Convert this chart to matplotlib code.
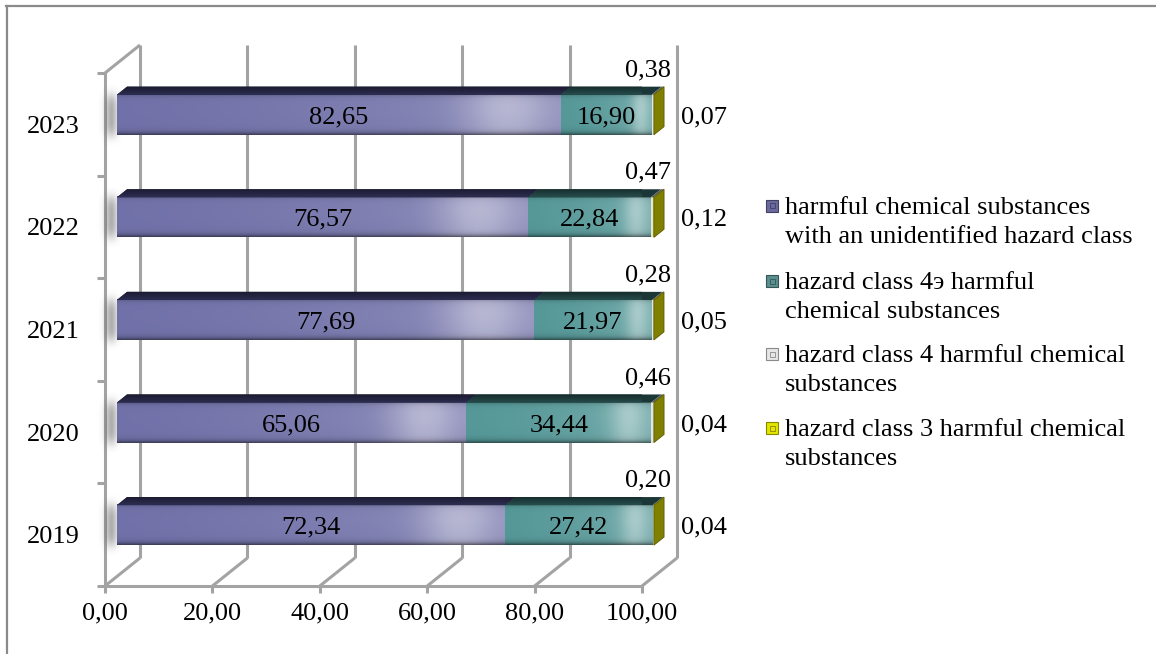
import numpy as np
import matplotlib
matplotlib.use("Agg")
import matplotlib.pyplot as plt
import matplotlib.transforms as mtransforms
from matplotlib.patches import Polygon, Rectangle
from matplotlib.lines import Line2D

# ---- data -------------------------------------------------------------
years = ["2019", "2020", "2021", "2022", "2023"]
unidentified = [72.34, 65.06, 77.69, 76.57, 82.65]
class_4e = [27.42, 34.44, 21.97, 22.84, 16.90]
class_4 = [0.20, 0.46, 0.28, 0.47, 0.38]
class_3 = [0.04, 0.04, 0.05, 0.12, 0.07]
series_names = [
    "harmful chemical substances\nwith an unidentified hazard class",
    "hazard class 4э harmful\nchemical substances",
    "hazard class 4 harmful chemical\nsubstances",
    "hazard class 3 harmful chemical\nsubstances",
]
x_ticks = [0, 20, 40, 60, 80, 100]

# ---- style ------------------------------------------------------------
plt.rcParams["font.family"] = ["Liberation Serif", "DejaVu Serif"]
FS = 19
W, H = 1156, 654
GRID = "#a3a3a3"
front_colors = ["#6c6ca6", "#4f9494", "#e4e4e4", "#d4d400"]
top_colors = ["#20203a", "#1b3636", "#5a5a5a", "#4a4a00"]
cap_color = "#808000"
marker_colors = ["#6a6aa0", "#5a8f8f", "#e6e6e6", "#e4e400"]

DX, DY = 35.0, 28.0      # pixel offset of the back wall relative to the front
D0, D1 = 0.34, 0.63      # depth range occupied by the bars
BAR_H = 0.39

fig = plt.figure(figsize=(W / 100, H / 100), dpi=100)
ax = fig.add_axes([105 / W, (H - 586) / H, 537 / W, 513 / H])
ax.set_xlim(0, 100)
ax.set_ylim(-0.5, 4.5)
ax.patch.set_visible(False)


def depth(d):
    return ax.transData + mtransforms.Affine2D().translate(d * DX, d * DY)


def px(x, y, d):
    p = ax.transData.transform((x, y))
    return (p[0] + d * DX, p[1] + d * DY)


ident = mtransforms.IdentityTransform()
wall_kw = dict(color=GRID, lw=2.2, solid_capstyle="butt", clip_on=False, zorder=1)

# ---- walls and floor ---------------------------------------------------
y0, y1 = ax.get_ylim()
for v in x_ticks:
    ax.plot([v, v], [y0, y1], transform=depth(1), **wall_kw)
    a, b = px(v, y0, 0), px(v, y0, 1)
    ax.add_line(Line2D([a[0], b[0]], [a[1], b[1]], transform=ident, **wall_kw))
a, b = px(0, y1, 0), px(0, y1, 1)
ax.add_line(Line2D([a[0], b[0]], [a[1], b[1]], transform=ident, **wall_kw))

for s in ["top", "right"]:
    ax.spines[s].set_visible(False)
for s in ["left", "bottom"]:
    ax.spines[s].set_color(GRID)
    ax.spines[s].set_linewidth(2.2)
    ax.spines[s].set_zorder(1)

ax.set_xticks(x_ticks, labels=[f"{v:.2f}".replace(".", ",") for v in x_ticks])
ax.set_yticks(range(len(years)), labels=years)
ax.set_yticks(np.arange(-0.5, len(years)), minor=True)
ax.tick_params(axis="x", length=5, width=2.2, color=GRID, pad=7, labelsize=FS)
ax.tick_params(axis="y", which="major", length=0, pad=18, labelsize=FS)
ax.tick_params(axis="y", which="minor", length=6, width=2.2, color=GRID)


# ---- shading helpers -----------------------------------------------------
def face_gradient(color, n=96):
    rgb = np.array(matplotlib.colors.to_rgb(color))
    u = np.linspace(0, 1, n)[None, :, None]
    v = np.linspace(0, 1, 32)[:, None, None]   # row 0 = top edge
    white = 0.04 + 0.2 * u ** 1.5 + 0.3 * np.exp(-((u - 0.88) / 0.1) ** 2)
    white = white * (0.9 + 0.1 * np.exp(-((v - 0.35) / 0.3) ** 2))
    dark = 0.45 * np.exp(-(1 - v) / 0.06) + 0.2 * np.exp(-v / 0.05)
    img = rgb * (1 - white) + white
    img = img * (1 - dark)
    return np.clip(img, 0, 1)


def top_gradient(color, n=16):
    rgb = np.array(matplotlib.colors.to_rgb(color))
    t = np.linspace(0, 1, n)[:, None, None]    # row 0 = back edge
    img = rgb * (0.8 + 0.6 * t)
    return np.clip(np.repeat(img, 4, axis=1), 0, 1)


# left-wall shadows
for i in range(len(years)):
    cx, cy = px(0, i, D0)
    gx = np.linspace(-1, 1, 40)
    gy = np.linspace(-1, 1, 60)
    G = np.exp(-((gx[None, :] - 0.2) / 0.55) ** 2) * np.exp(-((gy[:, None] + 0.05) / 0.6) ** 4)
    rgba = np.zeros((60, 40, 4))
    rgba[..., :3] = 0.3
    rgba[..., 3] = 0.45 * G
    im = ax.imshow(rgba, extent=(cx - 20, cx + 4, cy - 38, cy + 34), transform=ident,
                   aspect="auto", zorder=2, interpolation="bilinear")
    im.set_clip_on(False)

# ---- bars ---------------------------------------------------------------
series = [unidentified, class_4e, class_4, class_3]
lefts = np.zeros(len(years))
for k, vals in enumerate(series):
    vals = np.array(vals)
    bars = ax.barh(range(len(years)), vals, left=lefts, height=BAR_H,
                   color=front_colors[k], edgecolor="none", transform=depth(D0),
                   zorder=3, clip_on=False)
    for i, patch in enumerate(bars):
        x0, x1 = lefts[i], lefts[i] + vals[i]
        yb, yt = i - BAR_H / 2, i + BAR_H / 2
        if k < 2:
            im = ax.imshow(face_gradient(front_colors[k]), extent=(x0, x1, yb, yt),
                           transform=depth(D0), aspect="auto", zorder=3.1,
                           interpolation="bilinear")
            im.set_clip_on(False)
        top = [px(x0, yt, D0), px(x1, yt, D0), px(x1, yt, D1), px(x0, yt, D1)]
        tp = Polygon(top, closed=True, transform=ident, facecolor=top_colors[k],
                     edgecolor="none", zorder=3.2, clip_on=False)
        ax.add_patch(tp)
        if k < 2:
            a, b = px(x0, yt, D0), px(x1 + 1, yt, D1)
            im = ax.imshow(top_gradient(top_colors[k]), extent=(a[0], b[0], a[1], b[1]),
                           transform=ident, aspect="auto", zorder=3.21,
                           interpolation="bilinear")
            im.set_clip_path(tp)
    lefts = lefts + vals

# end caps on the right side of each bar
for i in range(len(years)):
    x = lefts[i]
    yb, yt = i - BAR_H / 2, i + BAR_H / 2
    cap = [px(x, yb, D0), px(x, yt, D0), px(x, yt, D1), px(x, yb, D1)]
    ax.add_patch(Polygon(cap, closed=True, transform=ident, facecolor=cap_color,
                         edgecolor="#5c5c00", lw=0.6, zorder=3.3, clip_on=False))

# ---- value labels ------------------------------------------------------------
fmt = lambda v: f"{v:.2f}".replace(".", ",")
for i in range(len(years)):
    ax.text(unidentified[i] / 2, i, fmt(unidentified[i]), transform=depth(D0),
            ha="center", va="center_baseline", fontsize=FS, zorder=5, clip_on=False)
    ax.text(unidentified[i] + class_4e[i] / 2, i, fmt(class_4e[i]), transform=depth(D0),
            ha="center", va="center_baseline", fontsize=FS, zorder=5, clip_on=False)
    ax.text(lefts[i], i, fmt(class_4[i]),
            transform=depth(D0) + mtransforms.Affine2D().translate(-6, 47),
            ha="center", va="center_baseline", fontsize=FS, zorder=5, clip_on=False)
    ax.text(lefts[i], i, fmt(class_3[i]),
            transform=depth(D0) + mtransforms.Affine2D().translate(27, 0),
            ha="left", va="center_baseline", fontsize=FS, zorder=5, clip_on=False)

# ---- legend -------------------------------------------------------------
first_line_y = [206, 281, 354, 428]
for name, yc, mc in zip(series_names, first_line_y, marker_colors):
    edge = matplotlib.colors.to_rgb(mc)
    edge = tuple(0.6 * c for c in edge)
    fig.add_artist(Rectangle(((766) / W, 1 - (yc + 6) / H), 12 / W, 12 / H,
                             transform=fig.transFigure, facecolor=mc, edgecolor=edge, lw=0.8))
    fig.add_artist(Rectangle(((769.5) / W, 1 - (yc + 2.5) / H), 5 / W, 5 / H,
                             transform=fig.transFigure, facecolor="none", edgecolor=edge, lw=0.6))
    for j, line in enumerate(name.split("\n")):
        fig.text(785 / W, 1 - (yc + 8 + 29 * j) / H, line, ha="left", va="baseline",
                 fontsize=FS)

# ---- outer frame -----------------------------------------------------------
fig.add_artist(Line2D([6 / W, 1], [1 - 6 / H, 1 - 6 / H], transform=fig.transFigure,
                      color="#8a8a8a", lw=1.6))
fig.add_artist(Line2D([7 / W, 7 / W], [0, 1 - 6 / H], transform=fig.transFigure,
                      color="#8a8a8a", lw=1.6))

ax.set_xlim(0, 100)
ax.set_ylim(-0.5, 4.5)
fig.savefig("out.png", dpi=100)
